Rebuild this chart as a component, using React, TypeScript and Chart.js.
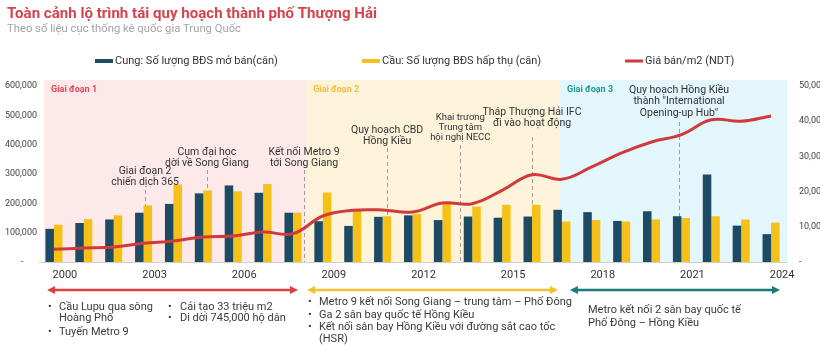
import React, { useEffect, useRef } from 'react';
import { Chart, registerables } from 'chart.js';

Chart.register(...registerables);

// ---------- data ----------
const categories = ['2000','2001','2002','2003','2004','2005','2006','2007','2008','2009','2010','2011','2012','2013','2014','2015','2016','2017','2018','2019','2020','2021','2022','2023','2024'];
const shownYears = ['2000','2003','2006','2009','2012','2015','2018','2021','2024'];
const supplyUnits = [113000,133000,145000,168000,198000,234000,261000,236000,168000,139000,123000,154000,159000,143000,155000,151000,155000,178000,170000,140000,173000,156000,298000,124000,95000];
const absorbedUnits = [127000,146000,159000,193000,264000,244000,241000,266000,168000,237000,175000,156000,164000,201000,189000,195000,195000,138000,143000,138000,145000,150000,156000,145000,134000];
const pricePerM2 = [3600,3980,4260,5300,5970,7100,7390,8520,8050,13070,14680,14770,14200,16760,16570,20360,24800,23500,27000,31000,34100,36200,40400,40000,41500];

const TITLE = 'Toàn cảnh lộ trình tái quy hoạch thành phố Thượng Hải';
const SUBTITLE = 'Theo số liệu cục thống kê quốc gia Trung Quốc';
const seriesLabels = ['Cung: Số lượng BĐS mở bán(căn)', 'Cầu: Số lượng BĐS hấp thụ (căn)', 'Giá bán/m2 (NDT)'];
const phaseNames = ['Giai đoạn 1', 'Giai đoạn 2', 'Giai đoạn 3'];
const eventTexts = [
  ['Giai đoạn 2', 'chiến dịch 365'],
  ['Cụm đại học', 'dời về Song Giang'],
  ['Kết nối Metro 9', 'tới Song Giang'],
  ['Quy hoạch CBD', 'Hồng Kiều'],
  ['Khai trương', 'Trung tâm', 'hội nghị NECC'],
  ['Tháp Thượng Hải IFC', 'đi vào hoạt động'],
  ['Quy hoạch Hồng Kiều', 'thành "International', 'Opening-up Hub"'],
];
const phaseNotes = [
  [['•', 'Cầu Lupu qua sông'], ['', 'Hoàng Phố'], ['•', 'Tuyến Metro 9']],
  [['•', 'Cải tạo 33 triệu m2'], ['•', 'Di dời 745,000 hộ dân']],
  [['•', 'Metro 9 kết nối Song Giang – trung tâm – Phố Đông'], ['•', 'Ga 2 sân bay quốc tế Hồng Kiều'], ['•', 'Kết nối sân bay Hồng Kiều với đường sắt cao tốc'], ['', '(HSR)']],
  [['', 'Metro kết nối 2 sân bay quốc tế'], ['', 'Phố Đông – Hồng Kiều']],
];

// ---------- layout / style ----------
const FONT = 'Roboto, "Noto Sans", sans-serif';
const C_DARK = '#1d4b63';
const C_YELLOW = '#f5c118';
const C_RED = '#cf3b3c';

const phaseStyle = [
  { from: -0.33, to: 8.44, fill: '#fde9ea', color: '#e2474d', arrow: '#d9403e', a0: -0.23, a1: 8.17 },
  { from: 8.44, to: 16.94, fill: '#fdf3da', color: '#f1bc3a', arrow: '#f2c232', a0: 8.47, a1: 16.87 },
  { from: 16.94, to: 24.55, fill: '#e3f6fb', color: '#1f9a8f', arrow: '#1b7a77', a0: 17.27, a1: 24.3 },
];
const eventStyle = [
  { at: 3.05, y: 171, lh: 11, size: 10.5, lineFrom: 190 },
  { at: 5.12, y: 152, lh: 11, size: 10.5, lineFrom: 170 },
  { at: 8.37, y: 152, lh: 11, size: 10.5, lineFrom: 170 },
  { at: 11.15, y: 130, lh: 11, size: 10.5, lineFrom: 148 },
  { at: 13.6, y: 118, lh: 10, size: 9.5, lineFrom: 145 },
  { at: 16.0, y: 112, lh: 11, size: 10.5, lineFrom: 137 },
  { at: 20.92, y: 90, lh: 11.5, size: 10.5, lineFrom: 122 },
];
const noteStyle = [
  { bx: 48, tx: 59, ys: [307, 318.5, 332] },
  { bx: 168, tx: 180, ys: [307, 318.5] },
  { bx: 308, tx: 319, ys: [302, 315.5, 327, 339] },
  { bx: 588, tx: 588, ys: [310, 323] },
];

function fracX(chart: any, v: number) {
  const xs = chart.scales.x;
  const p0 = xs.getPixelForValue(0);
  const p1 = xs.getPixelForValue(1);
  return p0 + (p1 - p0) * v;
}

const decorPlugin = {
  id: 'decor',
  beforeDraw(chart: any) {
    const { ctx, chartArea } = chart;
    ctx.save();
    phaseStyle.forEach((p, i) => {
      const x0 = fracX(chart, p.from);
      const x1 = fracX(chart, p.to);
      ctx.fillStyle = p.fill;
      ctx.fillRect(x0, chartArea.top - 6, x1 - x0, chartArea.bottom - chartArea.top + 6);
      ctx.fillStyle = p.color;
      ctx.font = `bold 9px ${FONT}`;
      ctx.textBaseline = 'middle';
      ctx.textAlign = 'left';
      ctx.fillText(phaseNames[i], x0 + 7, chartArea.top + 4);
    });
    ctx.restore();
  },
  beforeDatasetsDraw(chart: any) {
    const { ctx, chartArea } = chart;
    ctx.save();
    ctx.strokeStyle = 'rgba(130,130,130,0.75)';
    ctx.lineWidth = 1;
    ctx.setLineDash([4, 3]);
    eventStyle.forEach((e) => {
      const x = Math.round(fracX(chart, e.at)) + 0.5;
      ctx.beginPath();
      ctx.moveTo(x, e.lineFrom);
      ctx.lineTo(x, chartArea.bottom);
      ctx.stroke();
    });
    ctx.restore();
  },
  afterDraw(chart: any) {
    const { ctx } = chart;
    ctx.save();
    // title (stretched horizontally like the reference)
    ctx.textAlign = 'left';
    ctx.textBaseline = 'alphabetic';
    ctx.fillStyle = '#d5434c';
    ctx.font = `bold 15.5px ${FONT}`;
    const tw = ctx.measureText(TITLE).width;
    ctx.save();
    ctx.translate(7, 17.5);
    ctx.scale(370 / tw, 1);
    ctx.fillText(TITLE, 0, 0);
    ctx.restore();
    ctx.fillStyle = '#a3a3a3';
    ctx.font = `11px ${FONT}`;
    const sw = ctx.measureText(SUBTITLE).width;
    ctx.save();
    ctx.translate(7, 32.3);
    ctx.scale(234 / sw, 1);
    ctx.fillText(SUBTITLE, 0, 0);
    ctx.restore();

    // legend
    const legendX = [95, 362, 625];
    ctx.font = `11px ${FONT}`;
    ctx.textBaseline = 'middle';
    chart.data.datasets.forEach((ds: any, i: number) => {
      const x = legendX[i];
      ctx.fillStyle = ds.type === 'line' ? ds.borderColor : ds.backgroundColor;
      if (ds.type === 'line') ctx.fillRect(x, 59.5, 18, 3);
      else ctx.fillRect(x, 59, 18, 4);
      ctx.fillStyle = '#333';
      ctx.fillText(ds.label, x + 20, 61);
    });

    // event annotations
    ctx.fillStyle = '#333';
    ctx.textAlign = 'center';
    eventTexts.forEach((lines, i) => {
      const e = eventStyle[i];
      const x = fracX(chart, e.at);
      ctx.font = `${e.size}px ${FONT}`;
      lines.forEach((t, j) => ctx.fillText(t, x, e.y + j * e.lh));
    });

    // arrows
    phaseStyle.forEach((p) => {
      const x0 = fracX(chart, p.a0);
      const x1 = fracX(chart, p.a1);
      const y = 290;
      ctx.strokeStyle = p.arrow;
      ctx.fillStyle = p.arrow;
      ctx.lineWidth = 2.5;
      ctx.beginPath();
      ctx.moveTo(x0 + 5, y);
      ctx.lineTo(x1 - 5, y);
      ctx.stroke();
      ctx.beginPath();
      ctx.moveTo(x0, y);
      ctx.lineTo(x0 + 8, y - 4);
      ctx.lineTo(x0 + 8, y + 4);
      ctx.closePath();
      ctx.fill();
      ctx.beginPath();
      ctx.moveTo(x1, y);
      ctx.lineTo(x1 - 8, y - 4);
      ctx.lineTo(x1 - 8, y + 4);
      ctx.closePath();
      ctx.fill();
    });

    // notes
    ctx.textAlign = 'left';
    ctx.textBaseline = 'middle';
    ctx.font = `11px ${FONT}`;
    ctx.fillStyle = '#3a3a3a';
    phaseNotes.forEach((col, i) => {
      const s = noteStyle[i];
      col.forEach(([b, t], j) => {
        if (b) ctx.fillText(b, s.bx, s.ys[j]);
        ctx.fillText(t, s.tx, s.ys[j]);
      });
    });
    ctx.restore();
  },
};

export default function App() {
  const ref = useRef<HTMLCanvasElement>(null);
  useEffect(() => {
    if (!ref.current) return;
    const chart = new Chart(ref.current, {
      type: 'bar',
      data: {
        labels: categories,
        datasets: [
          { type: 'bar', label: seriesLabels[0], data: supplyUnits, backgroundColor: C_DARK, yAxisID: 'y', order: 1, categoryPercentage: 0.57, barPercentage: 1 } as any,
          { type: 'bar', label: seriesLabels[1], data: absorbedUnits, backgroundColor: C_YELLOW, yAxisID: 'y', order: 1, categoryPercentage: 0.57, barPercentage: 1 } as any,
          { type: 'line', label: seriesLabels[2], data: pricePerM2, borderColor: C_RED, backgroundColor: C_RED, borderWidth: 3, pointRadius: 0, tension: 0.4, yAxisID: 'y1', order: 0, fill: false } as any,
        ],
      },
      options: {
        animation: false,
        responsive: true,
        maintainAspectRatio: false,
        layout: { padding: { top: 86, bottom: 63, left: 0, right: 0 } },
        plugins: { legend: { display: false }, title: { display: false }, tooltip: { enabled: false } },
        scales: {
          x: {
            grid: { display: false, drawTicks: false },
            border: { display: true, color: '#cfcfcf', width: 1 },
            ticks: {
              autoSkip: false, maxRotation: 0, padding: 7, labelOffset: 11,
              color: '#333', font: { family: FONT, size: 11 },
              callback: (v: any, i: number) => (shownYears.includes(categories[i]) ? categories[i] : ''),
            },
            afterFit: (s: any) => { s.height = 20; s.paddingLeft = 0; s.paddingRight = 0; },
          },
          y: {
            position: 'left', min: 0, max: 600000,
            grid: { display: false, drawTicks: false },
            border: { display: false },
            ticks: {
              stepSize: 100000, padding: 2, color: '#444', font: { family: FONT, size: 9 },
              callback: (v: any) => (v === 0 ? '-      ' : Number(v).toLocaleString('en-US')),
            },
            afterFit: (s: any) => { s.width = 39; s.paddingTop = 0; s.paddingBottom = 0; },
          },
          y1: {
            position: 'right', min: 0, max: 50000,
            grid: { display: false, drawTicks: false },
            border: { display: false },
            ticks: {
              stepSize: 10000, padding: 13, color: '#444', font: { family: FONT, size: 9 },
              callback: (v: any) => (v === 0 ? '-' : Number(v).toLocaleString('en-US')),
            },
            afterFit: (s: any) => { s.width = 34; s.paddingTop = 0; s.paddingBottom = 0; },
          },
        },
      } as any,
      plugins: [decorPlugin],
    });
    return () => chart.destroy();
  }, []);
  return (
    <div style={{ position: 'fixed', left: 0, top: 0, width: 820, height: 345, background: '#fff' }}>
      <canvas ref={ref} />
    </div>
  );
}
